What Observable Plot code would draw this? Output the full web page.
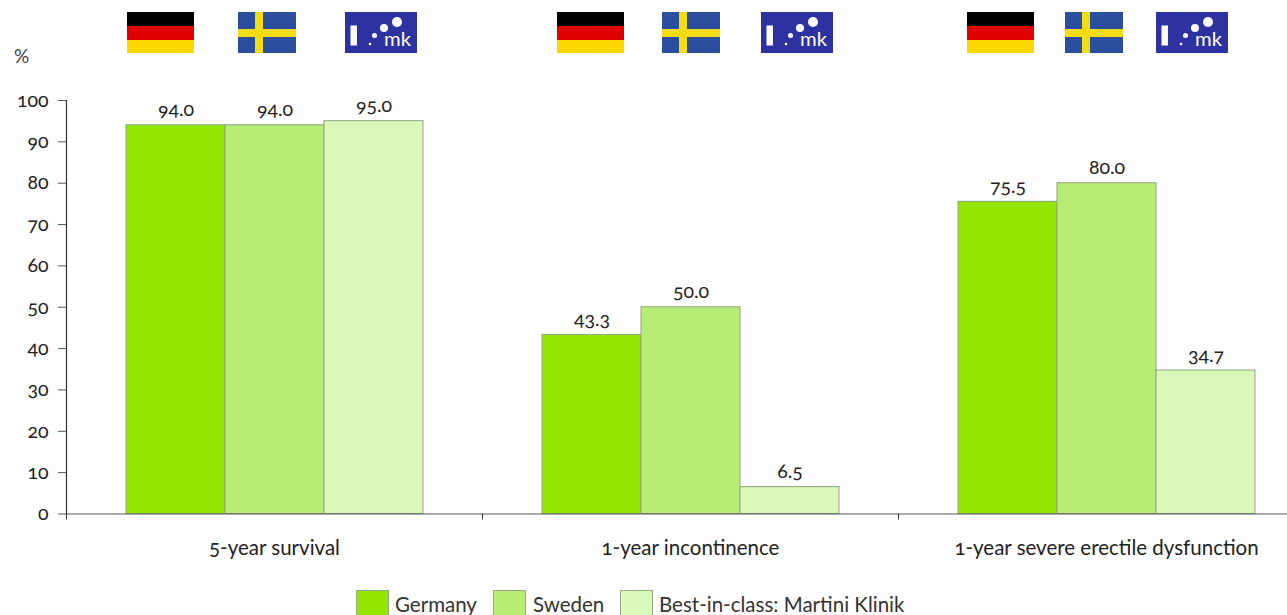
<!DOCTYPE html>
<html><head><meta charset="utf-8">
<script src="https://cdn.jsdelivr.net/npm/d3@7"></script>
<script src="https://cdn.jsdelivr.net/npm/@observablehq/plot@0.6"></script>
<style>
html,body{margin:0;padding:0;background:#fff;overflow:hidden;width:1287px;height:615px}
#wrap{position:relative;width:1287px;height:615px;overflow:hidden;font-family:Lato,"Open Sans",sans-serif;color:#222}
#chart{position:absolute;left:0;top:0;width:1287px;height:585px;overflow:hidden}
#chart svg{max-width:none !important;width:1314px;font-family:Lato,"Open Sans",sans-serif}
#chart svg text,#chart svg g{font-variant-numeric:oldstyle-nums !important;font-variant:oldstyle-nums}
.flag{position:absolute;top:11.5px;height:40.5px;display:block}
#pct{position:absolute;left:14px;top:44px;font-size:19px;color:#444}
#legend{position:absolute;top:590px;left:0;height:25px}
#legend .sw{position:absolute;top:0;width:31px;height:24px;border:1px solid #9aa88a}
#legend .lb{position:absolute;top:1px;font-size:20.5px;line-height:26px;white-space:nowrap;color:#333}
</style></head>
<body><div id="wrap"><div id="chart"></div><div id="pct">%</div><div id="legend"></div></div>
<script>
const categories = ["5-year survival","1-year incontinence","1-year severe erectile dysfunction"];
const seriesNames = ["Germany","Sweden","Best-in-class: Martini Klinik"];
const germany = [94.0,43.3,75.5];
const sweden = [94.0,50.0,80.0];
const best = [95.0,6.5,34.7];
const colors = ["#92e600","#b9ec75","#d9f8b9"];
const yTicks = [0,10,20,30,40,50,60,70,80,90,100];
const rows = categories.flatMap((c,i)=>[germany,sweden,best].map((s,j)=>({category:c,series:seriesNames[j],value:s[i]})));

const plot = Plot.plot({
  width:1314,height:585,marginLeft:66,marginRight:0,marginTop:100,marginBottom:71.5,
  style:{fontSize:"19.5px",background:"transparent",color:"#222"},
  fx:{domain:categories,padding:0,axis:null},
  x:{domain:seriesNames,paddingInner:0,paddingOuter:0.585,axis:null},
  y:{domain:[0,100],axis:null},
  color:{domain:seriesNames,range:colors},
  marks:[
    Plot.barY(rows,{fx:"category",x:"series",y:"value",fill:"series",stroke:"#93a383",strokeWidth:1}),
    Plot.text(rows,{fx:"category",x:"series",y:"value",text:d=>d.value.toFixed(1),lineAnchor:"bottom",dy:-9,fill:"#222"}),
    Plot.ruleY([0],{stroke:"#555",strokeWidth:1.2}),
    Plot.frame({anchor:"left",stroke:"#333",strokeWidth:1.2,facet:"super"}),
    Plot.axisY({ticks:yTicks,tickSize:8,tickPadding:10,label:null,stroke:"#555",fill:"#222"}),
    Plot.axisFx({anchor:"bottom",tickSize:6,tickPadding:0,tickFormat:()=>"",dx:-208,label:null,stroke:"#333"}),
    Plot.axisFx({anchor:"bottom",tickSize:0,tickPadding:26,label:null,fill:"#222",fontSize:20.5})
  ]
});
document.getElementById("chart").append(plot);

const deFlag = `<svg viewBox="0 0 67 41" preserveAspectRatio="none"><rect width="67" height="14" fill="#000"/><rect y="14" width="67" height="14" fill="#e00000"/><rect y="28" width="67" height="13" fill="#ffd800"/></svg>`;
const seFlag = `<svg viewBox="0 0 58 41" preserveAspectRatio="none"><rect width="58" height="41" fill="#2b4f9e"/><rect x="17" width="8" height="41" fill="#f2dc14"/><rect y="17" width="58" height="8" fill="#f2dc14"/></svg>`;
const mkLogo = `<svg viewBox="0 0 72 41" preserveAspectRatio="none"><rect width="72" height="41" fill="#2e31a0"/><rect x="5.5" y="13.5" width="6.5" height="20" fill="#fff"/><circle cx="29.5" cy="23.5" r="2.5" fill="#fff"/><circle cx="25" cy="32" r="1.3" fill="#fff"/><circle cx="39" cy="16" r="4" fill="#fff"/><circle cx="52" cy="10" r="5" fill="#fff"/><text x="39" y="33.5" font-family="Lato,sans-serif" font-size="20" textLength="27" lengthAdjust="spacingAndGlyphs" fill="#fff">mk</text></svg>`;
const flagStarts = [[127,238,344.5],[557,661.5,761],[967,1064.5,1156]];
const flagWidths = [67,58,72];
const flagArt = [deFlag,seFlag,mkLogo];
const wrap = document.getElementById("wrap");
flagStarts.forEach(g=>g.forEach((x,j)=>{
  const d=document.createElement("div");d.className="flag";d.style.left=x+"px";d.style.width=flagWidths[j]+"px";d.innerHTML=flagArt[j];wrap.append(d);
}));
const legendSw=[356,493,620],legendLb=[395,533,659];
const leg=document.getElementById("legend");
seriesNames.forEach((n,i)=>{
  leg.insertAdjacentHTML("beforeend",`<div class="sw" style="left:${legendSw[i]}px;background:${colors[i]}"></div><div class="lb" style="left:${legendLb[i]}px">${n}</div>`);
});
</script></body></html>
